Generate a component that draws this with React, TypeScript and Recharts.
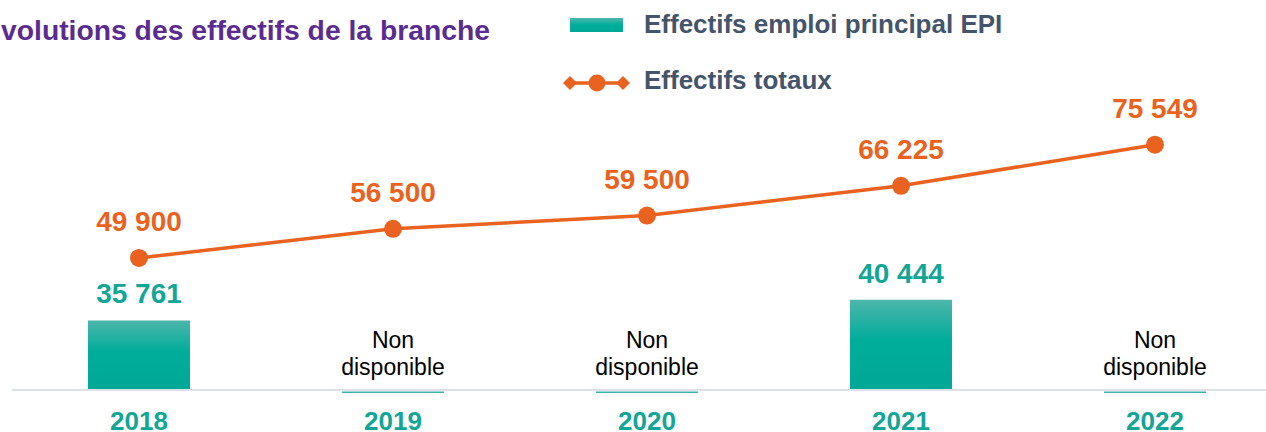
import { ComposedChart, Bar, Line, XAxis, YAxis, LabelList } from 'recharts';

const YEARS = ['2018', '2019', '2020', '2021', '2022'];
const EPI_VALUES: (number | null)[] = [35761, null, null, 40444, null];
const TOTAL_VALUES = [49900, 56500, 59500, 66225, 75549];

const TEAL_TEXT = '#13A696';
const ORANGE = '#EA6220';
const SLATE = '#44546A';
const PURPLE = '#5B2C8F';
const FONT = '"Liberation Sans", Arial, sans-serif';
const BAR_SIZE = 102;
const TICK_MARGIN = 22;

const data = YEARS.map((year, i) => ({ year, epi: EPI_VALUES[i], total: TOTAL_VALUES[i] }));

const fmt = (n: number) => String(n).replace(/\B(?=(\d{3})+(?!\d))/g, ' ');

// year tick, plus the "Non disponible" note where the EPI value is missing
function YearTick(props: any) {
  const { x, y, payload } = props;
  const idx = payload?.index ?? props.index;
  const axisY = y - TICK_MARGIN;
  return (
    <g>
      {EPI_VALUES[idx] == null && (
        <g>
          <rect x={x - BAR_SIZE / 2} y={axisY + 1.5} width={BAR_SIZE} height={1.5} fill="#3FB1A5" />
          <text x={x} y={axisY - 42} textAnchor="middle" fontSize={23} fontFamily={FONT} fill="#000">Non</text>
          <text x={x} y={axisY - 15} textAnchor="middle" fontSize={23} fontFamily={FONT} fill="#000">disponible</text>
        </g>
      )}
      <text x={x} y={y + 18} textAnchor="middle" fontSize={26} fontWeight="bold" fontFamily={FONT} fill={TEAL_TEXT}>
        {payload.value}
      </text>
    </g>
  );
}

function EpiLabel(props: any) {
  const { x, y, width, value } = props;
  if (value == null) return null;
  return (
    <text x={x + width / 2} y={y - 17} textAnchor="middle" fontSize={28} fontWeight="bold" fontFamily={FONT} fill={TEAL_TEXT}>
      {fmt(value)}
    </text>
  );
}

function TotalLabel(props: any) {
  const { x, y, value } = props;
  return (
    <text x={x} y={y - 27} textAnchor="middle" fontSize={28} fontWeight="bold" fontFamily={FONT} fill={ORANGE}>
      {fmt(value)}
    </text>
  );
}

export default function App() {
  return (
    <div style={{ position: 'relative', width: 1266, height: 432, overflow: 'hidden' }}>
      <style>{`body{margin:0;overflow:hidden}`}</style>
      <ComposedChart width={1300} height={432} data={data} margin={{ top: 125, right: 18, bottom: 0, left: 12 }}>
        <defs>
          <linearGradient id="epiGrad" x1="0" y1="0" x2="0" y2="1">
            <stop offset="0" stopColor="#4DB6AA" />
            <stop offset="0.45" stopColor="#00AD9B" />
            <stop offset="1" stopColor="#00A896" />
          </linearGradient>
        </defs>
        <XAxis
          dataKey="year"
          height={42}
          axisLine={{ stroke: '#DDE2E8', strokeWidth: 2 }}
          tickLine={false}
          tickSize={0}
          tickMargin={TICK_MARGIN}
          interval={0}
          tick={<YearTick />}
        />
        <YAxis hide domain={[20000, 80000]} allowDataOverflow />
        <Bar dataKey="epi" barSize={BAR_SIZE} fill="url(#epiGrad)" isAnimationActive={false}>
          <LabelList dataKey="epi" content={EpiLabel} />
        </Bar>
        <Line
          dataKey="total"
          stroke={ORANGE}
          strokeWidth={3.5}
          dot={{ r: 9, fill: ORANGE, stroke: 'none' }}
          activeDot={false}
          isAnimationActive={false}
        >
          <LabelList dataKey="total" content={TotalLabel} />
        </Line>
      </ComposedChart>
      <svg width={1266} height={110} style={{ position: 'absolute', left: 0, top: 0, pointerEvents: 'none' }}>
        <defs>
          <linearGradient id="legGrad" x1="0" y1="0" x2="0" y2="1">
            <stop offset="0" stopColor="#4DB6AA" />
            <stop offset="0.5" stopColor="#00AD9B" />
            <stop offset="1" stopColor="#00A896" />
          </linearGradient>
        </defs>
        <text x={1} y={40} fontSize={28.3} fontWeight="bold" fontFamily={FONT} fill={PURPLE}>
          volutions des effectifs de la branche
        </text>
        <rect x={570} y={18} width={53} height={14} fill="url(#legGrad)" />
        <text x={644} y={33} fontSize={26} fontWeight="bold" fontFamily={FONT} fill={SLATE}>
          Effectifs emploi principal EPI
        </text>
        <line x1={565} y1={83} x2={628} y2={83} stroke={ORANGE} strokeWidth={3.5} />
        <path d="M563 83 L570 76 L577 83 L570 90 Z" fill={ORANGE} />
        <path d="M616 83 L623 76 L630 83 L623 90 Z" fill={ORANGE} />
        <circle cx={597} cy={83} r={8.5} fill={ORANGE} />
        <text x={644} y={89} fontSize={26} fontWeight="bold" fontFamily={FONT} fill={SLATE}>
          Effectifs totaux
        </text>
      </svg>
    </div>
  );
}
